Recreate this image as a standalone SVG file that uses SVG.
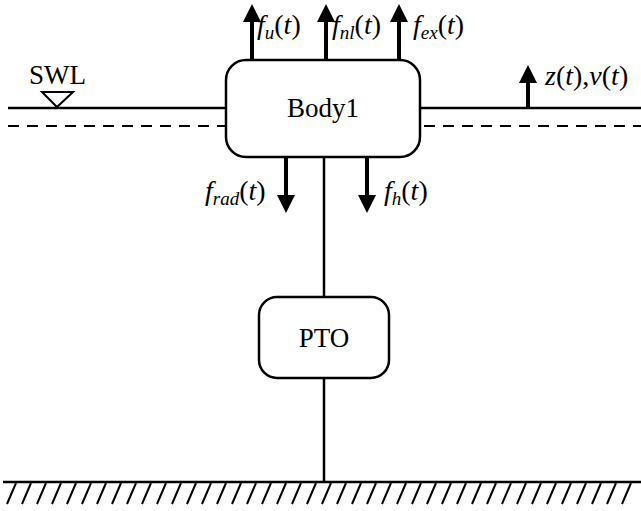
<svg xmlns="http://www.w3.org/2000/svg" width="641" height="511" viewBox="0 0 641 511">
<defs>
<style>
.ln{stroke:#000;stroke-width:2.5;fill:none}
.dash{stroke:#000;stroke-width:2;fill:none;stroke-dasharray:11 8}
.box{stroke:#000;stroke-width:2.5;fill:#fff}
.arr{stroke:#000;stroke-width:4;fill:none}
.t{font-family:"Liberation Serif","Times New Roman",serif;font-size:27px;fill:#000}
.lb{font-size:28px}
.i{font-style:italic}
.s{font-size:19px;font-style:italic}
.h{stroke:#000;stroke-width:2;fill:none}
</style>
<marker id="ah" viewBox="0 0 10 10" refX="5" refY="5" markerWidth="4.5" markerHeight="4.5" markerUnits="strokeWidth" orient="auto">
<path d="M0,0 L10,5 L0,10 z" fill="#000"/>
</marker>
</defs>
<g id="water">
<line class="ln" x1="8" y1="108" x2="226" y2="108"/>
<line class="ln" x1="420" y1="108" x2="641" y2="108"/>
<line class="dash" x1="8" y1="126" x2="226" y2="126"/>
<line class="dash" x1="424" y1="126" x2="641" y2="126"/>
<path d="M42,92 L73,92 L57,107 z" stroke="#000" stroke-width="2" fill="none"/>
<text class="t" x="29" y="84">SWL</text>
</g>
<g id="connectors">
<line class="ln" x1="324" y1="157" x2="324" y2="297"/>
<line class="ln" x1="324" y1="378" x2="324" y2="482"/>
<line class="arr" x1="252" y1="60" x2="252" y2="13" marker-end="url(#ah)"/>
<line class="arr" x1="326" y1="60" x2="326" y2="13" marker-end="url(#ah)"/>
<line class="arr" x1="399" y1="60" x2="399" y2="13" marker-end="url(#ah)"/>
<line class="arr" x1="528" y1="108" x2="528" y2="74" marker-end="url(#ah)"/>
<line class="arr" x1="286" y1="157" x2="286" y2="204" marker-end="url(#ah)"/>
<line class="arr" x1="367" y1="157" x2="367" y2="204" marker-end="url(#ah)"/>
</g>
<g id="body1">
<rect class="box" x="226" y="60" width="194" height="97" rx="20"/>
<text class="t" x="323" y="117" text-anchor="middle">Body1</text>
</g>
<g id="pto">
<rect class="box" x="259" y="297" width="130" height="81" rx="18"/>
<text class="t" x="324" y="347" text-anchor="middle">PTO</text>
</g>
<g id="labels">
<text class="t lb" x="257" y="34"><tspan class="i">f</tspan><tspan class="s" dy="5">u</tspan><tspan dy="-5">(</tspan><tspan class="i">t</tspan>)</text>
<text class="t lb" x="332" y="34"><tspan class="i">f</tspan><tspan class="s" dy="5">nl</tspan><tspan dy="-5">(</tspan><tspan class="i">t</tspan>)</text>
<text class="t lb" x="413" y="34"><tspan class="i">f</tspan><tspan class="s" dy="5">ex</tspan><tspan dy="-5">(</tspan><tspan class="i">t</tspan>)</text>
<text class="t lb" x="545" y="85"><tspan class="i">z</tspan>(<tspan class="i">t</tspan>),<tspan class="i">v</tspan>(<tspan class="i">t</tspan>)</text>
<text class="t lb" x="205" y="200"><tspan class="i">f</tspan><tspan class="s" dy="5">rad</tspan><tspan dy="-5">(</tspan><tspan class="i">t</tspan>)</text>
<text class="t lb" x="384" y="200"><tspan class="i">f</tspan><tspan class="s" dy="5">h</tspan><tspan dy="-5">(</tspan><tspan class="i">t</tspan>)</text>
</g>
<g id="ground">
<line class="ln" x1="3" y1="482" x2="641" y2="482"/>
<path class="h" d="M7,504 l9,-21 M22,504 l9,-21 M37,504 l9,-21 M52,504 l9,-21 M67,504 l9,-21 M82,504 l9,-21 M97,504 l9,-21 M112,504 l9,-21 M127,504 l9,-21 M142,504 l9,-21 M157,504 l9,-21 M172,504 l9,-21 M187,504 l9,-21 M202,504 l9,-21 M217,504 l9,-21 M232,504 l9,-21 M247,504 l9,-21 M262,504 l9,-21 M277,504 l9,-21 M292,504 l9,-21 M307,504 l9,-21 M322,504 l9,-21 M337,504 l9,-21 M352,504 l9,-21 M367,504 l9,-21 M382,504 l9,-21 M397,504 l9,-21 M412,504 l9,-21 M427,504 l9,-21 M442,504 l9,-21 M457,504 l9,-21 M472,504 l9,-21 M487,504 l9,-21 M502,504 l9,-21 M517,504 l9,-21 M532,504 l9,-21 M547,504 l9,-21 M562,504 l9,-21 M577,504 l9,-21 M592,504 l9,-21 M607,504 l9,-21 M622,504 l9,-21"/>
</g>
</svg>
